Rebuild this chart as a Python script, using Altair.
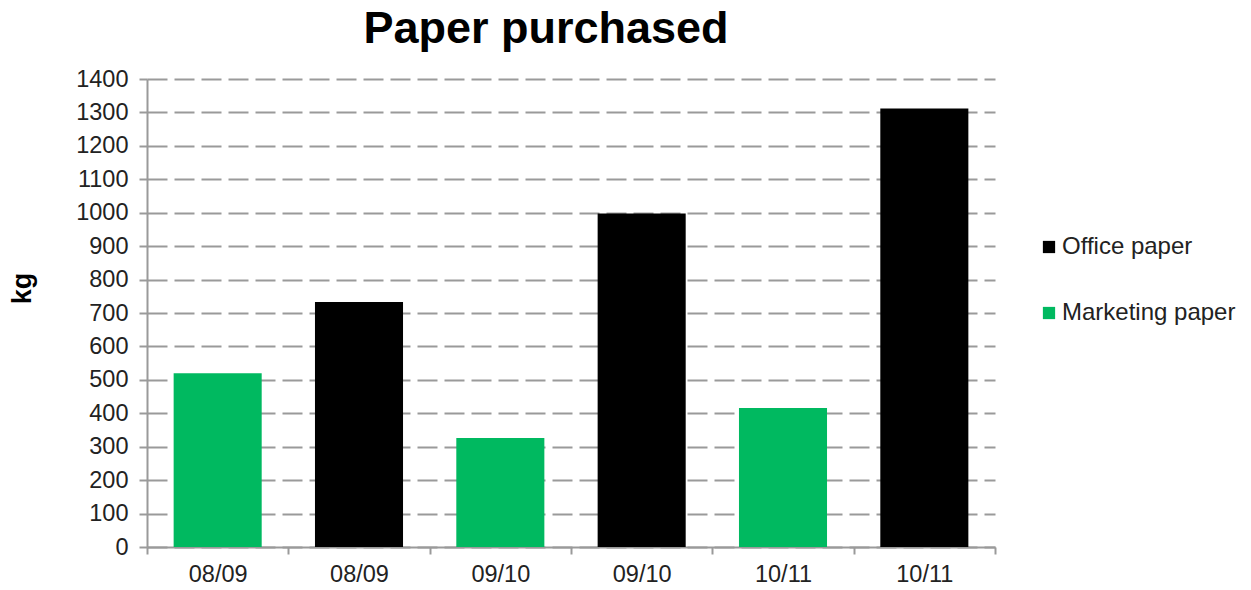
import altair as alt
import pandas as pd

years = ["08/09", "08/09", "09/10", "09/10", "10/11", "10/11"]
series = ["Marketing paper", "Office paper", "Marketing paper", "Office paper", "Marketing paper", "Office paper"]
values = [520, 733, 326, 998, 416, 1312]
y_ticks = list(range(0, 1401, 100))
legend_order = ["Office paper", "Marketing paper"]
colors = ["#000000", "#00B960"]

df = pd.DataFrame({
    "key": [f"{y}|{s}" for y, s in zip(years, series)],
    "year": years,
    "series": series,
    "kg": values,
})

FONT = "Liberation Sans"
GREY = "#9a9a9a"

chart = alt.Chart(df).mark_bar(width=alt.RelativeBandSize(0.623)).encode(
    x=alt.X("key:N", sort=None,
            scale=alt.Scale(paddingInner=0, paddingOuter=0),
            axis=alt.Axis(title=None, labelExpr="split(datum.label, '|')[0]",
                          labelAngle=0, labelFontSize=23.5, labelColor="#222222",
                          labelFont=FONT, labelPadding=8,
                          domainColor=GREY, domainWidth=2, tickColor=GREY, tickWidth=2,
                          tickSize=7, tickBand="extent", grid=False)),
    y=alt.Y("kg:Q", scale=alt.Scale(domain=[0, 1400], nice=False),
            axis=alt.Axis(title="kg", values=y_ticks, format="d", labelFontSize=23.5,
                          labelColor="#222222", labelFont=FONT, labelPadding=11,
                          domainColor=GREY, domainWidth=2, tickColor=GREY, tickWidth=2, tickSize=8,
                          grid=True, gridColor=GREY, gridWidth=2, gridDash=[20, 7],
                          titleFont=FONT, titleFontSize=27, titleFontWeight="bold", titleColor="#000000",
                          titleAngle=270, titleX=-125, titleY=209, titleAlign="center",
                          titleBaseline="middle")),
    color=alt.Color("series:N", scale=alt.Scale(domain=legend_order, range=colors),
                    legend=alt.Legend(title=None, orient="none", legendX=890, legendY=156,
                                      symbolType="square", symbolSize=150, symbolStrokeWidth=0,
                                      labelFontSize=24, labelFont=FONT, labelColor="#222222",
                                      labelLimit=400, rowPadding=42, labelOffset=1, padding=0)),
).properties(
    width=848, height=468,
    title=alt.Title("Paper purchased", font=FONT, fontSize=45, fontWeight="bold", color="#000000",
                    anchor="middle", dx=-25, offset=15),
    autosize=alt.AutoSizeParams(type="none"),
    padding={"left": 147, "top": 79, "right": 256, "bottom": 43},
).configure_view(stroke=None)

chart.save("out.html", embed_options={"renderer": "svg", "actions": False})
